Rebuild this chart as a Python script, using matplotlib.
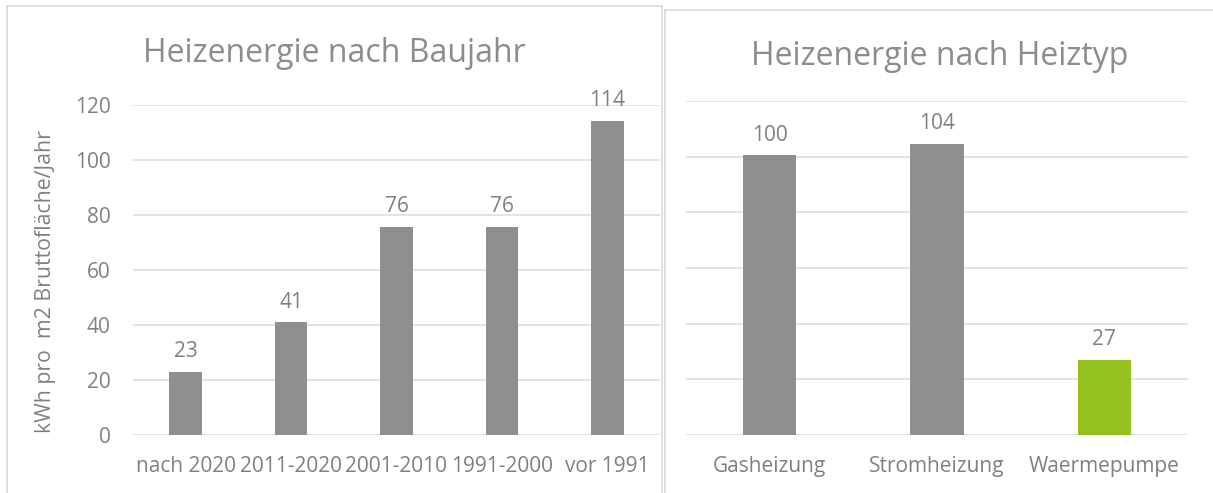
import matplotlib
matplotlib.use("Agg")
import matplotlib.pyplot as plt
from matplotlib.lines import Line2D

plt.rcParams['font.family'] = ['Open Sans', 'DejaVu Sans']

# Data
years = ["nach 2020", "2011-2020", "2001-2010", "1991-2000", "vor 1991"]
years_values = [23, 41, 75.6, 75.8, 114.2]
years_labels = ["23", "41", "76", "76", "114"]

types = ["Gasheizung", "Stromheizung", "Waermepumpe"]
types_values = [100.5, 104.6, 27.1]
types_labels = ["100", "104", "27"]

title_left = "Heizenergie nach Baujahr"
title_right = "Heizenergie nach Heiztyp"
ylabel = "kWh pro  m2 Bruttofläche/Jahr"

GRAY = "#8f8f8f"
GREEN = "#95c11f"
TXT = "#808080"
TITLE = "#8c8c8c"
GRID = "#dedede"

W, H = 1213, 493
fig = plt.figure(figsize=(W / 100, H / 100), dpi=100)

def fx(px):
    return px / W

def fy(py):
    return 1 - py / H

# panel borders
fig.add_artist(Line2D([fx(7), fx(7)], [fy(6), fy(500)], color="#d9d9d9", lw=1.2))
fig.add_artist(Line2D([fx(7), fx(662)], [fy(6), fy(6)], color="#d9d9d9", lw=1.2))
fig.add_artist(Line2D([fx(662), fx(662)], [fy(6), fy(500)], color="#d9d9d9", lw=1.2))
fig.add_artist(Line2D([fx(665), fx(665)], [fy(10), fy(500)], color="#d9d9d9", lw=1.2))
fig.add_artist(Line2D([fx(665), fx(1220)], [fy(10), fy(10)], color="#d9d9d9", lw=1.2))

axL = fig.add_axes([fx(133), fy(435), (660 - 133) / W, (435 - 105) / H])
axR = fig.add_axes([fx(686), fy(435), (1188 - 686) / W, (435 - 101) / H])

def style(ax, cats, vals, labels, colors, width, show_y):
    x = list(range(len(cats)))
    ax.bar(x, vals, width=width, color=colors, zorder=3)
    ax.set_xlim(-0.5, len(cats) - 0.5)
    ax.set_ylim(0, 120)
    ax.set_yticks([0, 20, 40, 60, 80, 100, 120])
    ax.grid(axis="y", color=GRID, lw=1.2, zorder=0)
    ax.set_axisbelow(True)
    for s in ax.spines.values():
        s.set_visible(False)
    ax.set_xticks(x)
    ax.set_xticklabels(cats)
    ax.tick_params(axis="x", length=0, pad=15, labelsize=15, labelcolor=TXT)
    if show_y:
        ax.tick_params(axis="y", length=0, pad=16, labelsize=15, labelcolor=TXT)
    else:
        ax.tick_params(axis="y", length=0, labelleft=False)
    for xi, v, lab in zip(x, vals, labels):
        ax.annotate(lab, (xi, v), xytext=(0, 7), textcoords="offset points",
                    ha="center", va="bottom", fontsize=15, color=TXT)

style(axL, years, years_values, years_labels, [GRAY] * 5, 0.31, True)
style(axR, types, types_values, types_labels, [GRAY, GRAY, GREEN], 0.32, False)

fig.text(fx(334), fy(62), title_left, ha="center", va="baseline", fontsize=23, color=TITLE)
fig.text(fx(940), fy(65), title_right, ha="center", va="baseline", fontsize=23, color=TITLE)
fig.text(fx(46), fy(282), ylabel, ha="center", va="center", rotation=90, fontsize=15.3, color=TXT)

fig.savefig("out.png", dpi=100)
